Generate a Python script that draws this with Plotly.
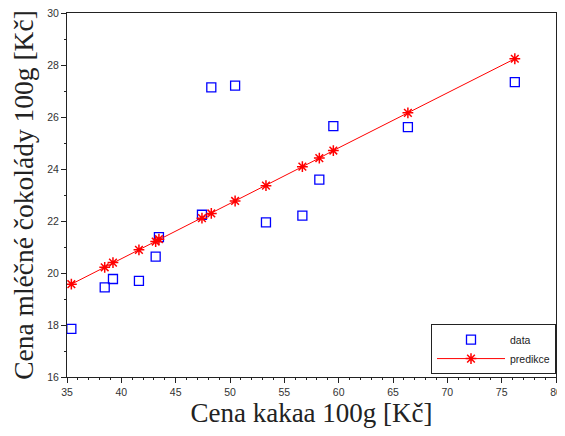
import plotly.graph_objects as go

# Cena kakaa 100g [Kč]
cocoa_price = [35.40, 38.47, 39.23, 41.62, 43.16, 43.46, 47.42, 48.28, 50.47,
               53.31, 56.66, 58.22, 59.51, 66.37, 76.21]
# Cena mléčné čokolády 100g [Kč] – measured data
choc_price = [17.85, 19.45, 19.77, 19.70, 20.63, 21.38, 22.24, 27.14, 27.21,
              21.95, 22.21, 23.59, 25.65, 25.61, 27.34]
# predicted values (regression line)
choc_pred = [19.57, 20.22, 20.40, 20.89, 21.21, 21.30, 22.11, 22.29, 22.77,
             23.36, 24.09, 24.42, 24.71, 26.16, 28.24]

x_ticks = [35, 40, 45, 50, 55, 60, 65, 70, 75, 80]
y_ticks = [16, 18, 20, 22, 24, 26, 28, 30]

fig = go.Figure()
fig.add_trace(go.Scatter(
    x=cocoa_price, y=choc_price, mode="markers", name="data",
    marker=dict(symbol="square-open", size=9, color="#0000ff",
                line=dict(width=1.3, color="#0000ff")),
))
fig.add_trace(go.Scatter(
    x=cocoa_price, y=choc_pred, mode="lines+markers", name="predikce",
    line=dict(color="#ff0000", width=1),
    marker=dict(symbol="asterisk-open", size=9, color="#ff0000",
                line=dict(width=1.5, color="#ff0000")),
))

axis_common = dict(
    showgrid=False, zeroline=False, showline=True, linecolor="#222222",
    linewidth=1, mirror=True, ticks="outside", ticklen=5, tickwidth=1,
    tickcolor="#222222", automargin=False, ticklabeloverflow="allow",
    tickfont=dict(family="Liberation Sans, Arial, sans-serif", size=10.5, color="#333333"),
)

fig.update_xaxes(
    range=[35, 80], tickvals=x_ticks, ticktext=[str(v) for v in x_ticks],
    title=dict(text="Cena kakaa 100g [Kč]", standoff=10,
               font=dict(family="Liberation Serif, Times New Roman, serif", size=27, color="#222222")),
    minor=dict(dtick=1, tick0=35, ticks="outside", ticklen=2, tickcolor="#222222", showgrid=False),
    **axis_common,
)
fig.update_yaxes(
    range=[16, 30], tickvals=y_ticks, ticktext=[str(v) for v in y_ticks],
    title=dict(text="Cena mléčné čokolády 100g [Kč]", standoff=10,
               font=dict(family="Liberation Serif, Times New Roman, serif", size=27.5, color="#222222")),
    minor=dict(dtick=1, tick0=16, ticks="outside", ticklen=2, tickcolor="#222222", showgrid=False),
    **axis_common,
)

# the page adds an 8px body margin, so the figure is sized/offset to compensate
fig.update_layout(
    width=557, height=420,
    margin=dict(l=59, r=8.5, t=5, b=51),
    paper_bgcolor="white", plot_bgcolor="white",
    showlegend=True,
    legend=dict(
        x=1, y=0.008, xanchor="right", yanchor="bottom",
        bgcolor="white", bordercolor="#222222", borderwidth=1,
        font=dict(family="Liberation Sans, Arial, sans-serif", size=10.5, color="#222222"),
        itemwidth=68, tracegroupgap=0,
    ),
)

fig.write_html("out.html")
